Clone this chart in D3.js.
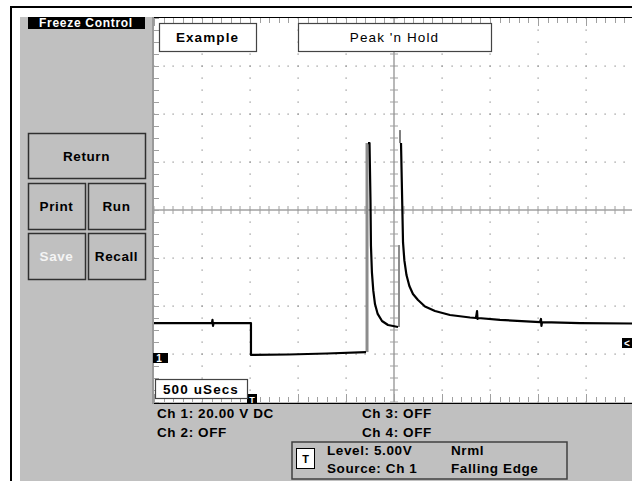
<!DOCTYPE html>
<html>
<head>
<meta charset="utf-8">
<script src="https://cdn.jsdelivr.net/npm/d3@7"></script>
<style>
  body { margin: 0; background: #fff; }
  svg { display: block; font-family: "Liberation Sans", Arial, sans-serif; }
</style>
</head>
<body>
<div id="scope"></div>
<script>
// trace values: time in ms (500 uSecs / div), volts (20 V / div)
var baseT = [-1.0, -0.396, -0.391, -0.385, -0.38, 0.01, 0.01, 0.4, 0.8, 1.208];
var baseV = [12.9, 12.9, 14.2, 11.7, 12.9, 12.9, -0.4, -0.2, 0.2, 0.8];

var decay1T = [1.229, 1.245, 1.255, 1.26, 1.27, 1.284, 1.302, 1.33, 1.375, 1.4375, 1.542];
var decay1V = [87.9, 87.9, 64.2, 45.0, 34.0, 26.5, 20.8, 16.7, 13.75, 12.1, 11.25];

var decay2T = [1.573, 1.583, 1.594, 1.608, 1.63, 1.66, 1.6975, 1.75, 1.823, 1.927, 2.083, 2.292,
  2.354, 2.365, 2.37, 2.375, 2.604, 3.021, 3.031, 3.036, 3.042, 3.4375, 4.0];
var decay2V = [87.9, 68.3, 46.5, 39.0, 32.9, 28.3, 25.0, 22.5, 19.8, 17.9, 16.25, 15.2,
  15.0, 17.9, 14.6, 15.0, 14.2, 13.3, 14.6, 11.7, 13.3, 12.9, 12.7];

var spikeT = [1.5625, 1.5625];
var spikeV = [87.9, 93.3];

// peak-hold rising edges (drawn grey)
var riseT = [1.219, 1.552];
var riseLo = [0.8, 11.25];
var riseHi = [87.9, 45.4];

var groundV = 0;
var trigLevel = 5.0;
var trigTime = 0;

var buttons = ["Return", "Print", "Run", "Save", "Recall"];
var chLines = ["Ch 1: 20.00 V DC", "Ch 2: OFF", "Ch 3: OFF", "Ch 4: OFF"];
var trigLines = ["Level: 5.00V", "Source: Ch 1", "Nrml", "Falling Edge"];

var svgWidth = 632;
var svgHeight = 481;

var svg = d3
  .select("#scope")
  .append("svg")
  .attr("width", svgWidth)
  .attr("height", svgHeight);

// outer frame
svg.append("rect").attr("x", 0).attr("y", 0).attr("width", svgWidth).attr("height", svgHeight).attr("fill", "#fff");
svg.append("rect").attr("x", 20).attr("y", 17).attr("width", svgWidth - 20).attr("height", svgHeight - 17).attr("fill", "#c0c0c0");
svg.append("line").attr("x1", 10).attr("x2", svgWidth).attr("y1", 7).attr("y2", 7).attr("stroke", "#000").attr("stroke-width", 2);
svg.append("line").attr("x1", 11).attr("x2", 11).attr("y1", 6).attr("y2", svgHeight).attr("stroke", "#000").attr("stroke-width", 2);

// Freeze Control label
svg.append("rect").attr("x", 28).attr("y", 17).attr("width", 117).attr("height", 12).attr("fill", "#000");
svg.append("text").attr("x", 86).attr("y", 27).attr("text-anchor", "middle")
  .attr("fill", "#fff").attr("font-size", 12).attr("font-weight", "bold").attr("letter-spacing", 0.7)
  .text("Freeze Control");

// scales
var xScale = d3.scaleLinear().domain([-1, 4]).range([154, 634]);
var yScale = d3.scaleLinear().domain([-20, 140]).range([402, 18]);

var plot = svg.append("g").attr("class", "plot");
plot.append("rect")
  .attr("x", xScale(-1)).attr("y", yScale(140))
  .attr("width", xScale(4) - xScale(-1)).attr("height", yScale(-20) - yScale(140))
  .attr("fill", "#fff");

var gridCol = "#8a8a8a";
var xMajor = d3.range(-1, 4.001, 0.5);
var xMinor = d3.range(-1, 4.001, 0.1);
var yMajor = d3.range(-20, 140.01, 20);
var yMinor = d3.range(-20, 140.01, 5);

// dotted rows and columns
var dots = [];
yMajor.forEach(function(v) {
  if (v === -20 || v === 140 || v === 60) return;
  xMinor.forEach(function(t) { dots.push([t, v]); });
});
xMajor.forEach(function(t) {
  if (t === -1 || t === 4 || t === 1.5) return;
  yMinor.forEach(function(v) { dots.push([t, v]); });
});
plot.selectAll("rect.dot").data(dots).enter()
  .append("rect")
  .attr("class", "dot")
  .attr("x", function(d) { return Math.round(xScale(d[0])) - 0.5; })
  .attr("y", function(d) { return Math.round(yScale(d[1])) - 0.5; })
  .attr("width", 1.2).attr("height", 1.2)
  .attr("fill", gridCol);

// centre cross
plot.append("line").attr("x1", xScale(-1)).attr("x2", xScale(4)).attr("y1", yScale(60)).attr("y2", yScale(60))
  .attr("stroke", "#a0a0a0").attr("stroke-width", 1.5);
plot.append("line").attr("x1", xScale(1.5)).attr("x2", xScale(1.5)).attr("y1", yScale(140)).attr("y2", yScale(-20))
  .attr("stroke", "#a0a0a0").attr("stroke-width", 1.5);

plot.selectAll("line.cx").data(xMinor).enter()
  .append("line").attr("class", "cx")
  .attr("x1", function(d) { return Math.round(xScale(d)); })
  .attr("x2", function(d) { return Math.round(xScale(d)); })
  .attr("y1", yScale(60) - 4).attr("y2", yScale(60) + 4)
  .attr("stroke", "#a0a0a0").attr("stroke-width", 1);
plot.selectAll("line.cy").data(yMinor).enter()
  .append("line").attr("class", "cy")
  .attr("y1", function(d) { return Math.round(yScale(d)); })
  .attr("y2", function(d) { return Math.round(yScale(d)); })
  .attr("x1", xScale(1.5) - 4).attr("x2", xScale(1.5) + 4)
  .attr("stroke", "#a0a0a0").attr("stroke-width", 1);

// edge ticks
[140, -20].forEach(function(edge) {
  var dir = edge === 140 ? 1 : -1;
  plot.selectAll("line.e" + (dir > 0 ? "t" : "b")).data(xMinor).enter()
    .append("line").attr("class", "e" + (dir > 0 ? "t" : "b"))
    .attr("x1", function(d) { return Math.round(xScale(d)) + 0.5; })
    .attr("x2", function(d) { return Math.round(xScale(d)) + 0.5; })
    .attr("y1", yScale(edge))
    .attr("y2", function(d, i) { return yScale(edge) + dir * (i % 5 === 0 ? 8 : 5); })
    .attr("stroke", "#a0a0a0").attr("stroke-width", 1);
});
plot.selectAll("line.el").data(yMinor).enter()
  .append("line").attr("class", "el")
  .attr("y1", function(d) { return Math.round(yScale(d)) + 0.5; })
  .attr("y2", function(d) { return Math.round(yScale(d)) + 0.5; })
  .attr("x1", xScale(-1)).attr("x2", xScale(-1) + 5)
  .attr("stroke", "#a0a0a0").attr("stroke-width", 1);

// plot border
plot.append("line").attr("x1", xScale(-1)).attr("x2", svgWidth).attr("y1", 17.5).attr("y2", 17.5).attr("stroke", "#000").attr("stroke-width", 1);
plot.append("line").attr("x1", xScale(-1)).attr("x2", svgWidth).attr("y1", 403.5).attr("y2", 403.5).attr("stroke", "#000").attr("stroke-width", 1);
plot.append("line").attr("x1", 153).attr("x2", 153).attr("y1", 17).attr("y2", 404).attr("stroke", "#9a9a9a").attr("stroke-width", 2);

// traces
var line = d3.line()
  .x(function(d) { return xScale(d[0]); })
  .y(function(d) { return yScale(d[1]); });

function zip(ts, vs) { return ts.map(function(t, i) { return [t, vs[i]]; }); }

plot.selectAll("line.rise").data(riseT).enter()
  .append("line").attr("class", "rise")
  .attr("x1", function(d) { return xScale(d); })
  .attr("x2", function(d) { return xScale(d); })
  .attr("y1", function(d, i) { return yScale(riseLo[i]); })
  .attr("y2", function(d, i) { return yScale(riseHi[i]); })
  .attr("stroke", "#8c8c8c")
  .attr("stroke-width", function(d, i) { return i === 0 ? 3 : 2; });

[zip(baseT, baseV), zip(decay1T, decay1V), zip(decay2T, decay2V)].forEach(function(seg) {
  plot.append("path").attr("d", line(seg)).attr("fill", "none")
    .attr("stroke", "#000").attr("stroke-width", 2.2).attr("stroke-linejoin", "round");
});
plot.append("path").attr("d", line(zip(spikeT, spikeV))).attr("fill", "none")
  .attr("stroke", "#000").attr("stroke-width", 1);

// markers: ground, trigger level, trigger position
var gy = yScale(groundV);
svg.append("rect").attr("x", 153).attr("y", gy - 1).attr("width", 15).attr("height", 10).attr("fill", "#000");
svg.append("text").attr("x", 159).attr("y", gy + 7.5).attr("text-anchor", "middle").attr("fill", "#fff")
  .attr("font-size", 10).attr("font-weight", "bold").text("1");

var ty = yScale(trigLevel);
svg.append("rect").attr("x", 622).attr("y", ty - 4).attr("width", 10).attr("height", 10).attr("fill", "#000");
svg.append("text").attr("x", 627).attr("y", ty + 4.5).attr("text-anchor", "middle").attr("fill", "#fff")
  .attr("font-size", 10).attr("font-weight", "bold").text("<");

var tx = xScale(trigTime);
svg.append("rect").attr("x", tx - 3).attr("y", 394).attr("width", 10).attr("height", 10).attr("fill", "#000");
svg.append("text").attr("x", tx + 2).attr("y", 403).attr("text-anchor", "middle").attr("fill", "#fff")
  .attr("font-size", 9).attr("font-weight", "bold").text("T");

// title boxes
function labelBox(x, y, w, h, txt, weight, anchorX) {
  svg.append("rect").attr("x", x + 0.5).attr("y", y + 0.5).attr("width", w).attr("height", h)
    .attr("fill", "#fff").attr("stroke", "#444").attr("stroke-width", 1.2);
  svg.append("text").attr("x", anchorX === undefined ? x + w / 2 : anchorX).attr("y", y + h / 2 + 5)
    .attr("text-anchor", anchorX === undefined ? "middle" : "start")
    .attr("font-size", 13.5).attr("font-weight", weight).attr("letter-spacing", 1.1)
    .text(txt);
}
labelBox(159, 23, 97, 28, "Example", "bold");
labelBox(298, 23, 193, 28, "Peak 'n Hold", "normal");
labelBox(155, 379, 92, 19, "500 uSecs", "bold", 163);

// buttons
var btnBoxes = [[28, 133, 117, 45], [28, 183, 57, 46], [88, 183, 57, 46], [28, 233, 57, 46], [88, 233, 57, 46]];
var btn = svg.selectAll("g.btn").data(buttons).enter()
  .append("g").attr("class", "btn");
btn.append("rect")
  .attr("x", function(d, i) { return btnBoxes[i][0] + 0.5; })
  .attr("y", function(d, i) { return btnBoxes[i][1] + 0.5; })
  .attr("width", function(d, i) { return btnBoxes[i][2]; })
  .attr("height", function(d, i) { return btnBoxes[i][3]; })
  .attr("fill", "#c0c0c0").attr("stroke", "#303030").attr("stroke-width", 1.5);
btn.append("text")
  .attr("x", function(d, i) { return btnBoxes[i][0] + btnBoxes[i][2] / 2; })
  .attr("y", function(d, i) { return btnBoxes[i][1] + btnBoxes[i][3] / 2 + 5; })
  .attr("text-anchor", "middle").attr("font-size", 13.5).attr("font-weight", "bold").attr("letter-spacing", 0.6)
  .attr("fill", function(d) { return d === "Save" ? "#f4f4f4" : "#000"; })
  .text(function(d) { return d; });

// channel readouts
var chPos = [[157, 418], [157, 437], [362, 418], [362, 437]];
svg.selectAll("text.ch").data(chLines).enter()
  .append("text").attr("class", "ch")
  .attr("x", function(d, i) { return chPos[i][0]; })
  .attr("y", function(d, i) { return chPos[i][1]; })
  .attr("font-size", 13.5).attr("font-weight", "bold").attr("letter-spacing", 0.6)
  .text(function(d) { return d; });

// trigger box
svg.append("rect").attr("x", 292).attr("y", 442).attr("width", 275).attr("height", 37)
  .attr("fill", "none").attr("stroke", "#404040").attr("stroke-width", 1.5);
svg.append("rect").attr("x", 296.5).attr("y", 448.5).attr("width", 18).attr("height", 20)
  .attr("fill", "#fff").attr("stroke", "#000").attr("stroke-width", 1);
svg.append("text").attr("x", 305.5).attr("y", 463).attr("text-anchor", "middle")
  .attr("font-size", 11).attr("font-weight", "bold").text("T");
var trigPos = [[327, 455], [327, 473], [451, 455], [451, 473]];
svg.selectAll("text.trig").data(trigLines).enter()
  .append("text").attr("class", "trig")
  .attr("x", function(d, i) { return trigPos[i][0]; })
  .attr("y", function(d, i) { return trigPos[i][1]; })
  .attr("font-size", 13.5).attr("font-weight", "bold").attr("letter-spacing", 0.6)
  .text(function(d) { return d; });
</script>
</body>
</html>
